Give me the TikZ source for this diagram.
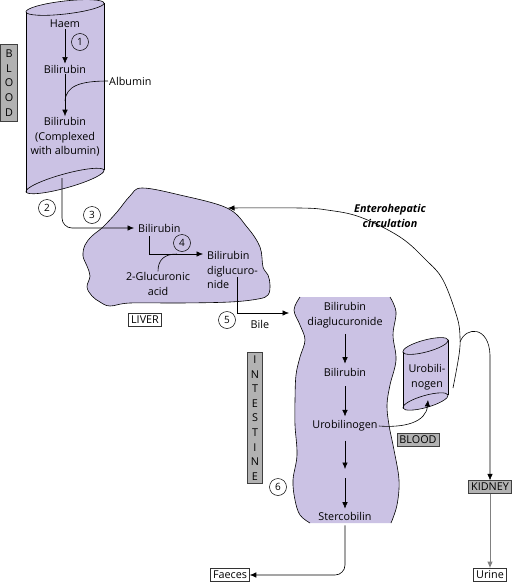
\documentclass[tikz,border=0pt]{standalone}
\usepackage{fontspec}
\setmainfont{Open Sans}
\usetikzlibrary{arrows.meta}
\definecolor{lav}{RGB}{203,194,228}
\definecolor{lblgray}{RGB}{178,178,178}
\newcommand\fs{\fontsize{10.8}{14.6}\selectfont}
\begin{document}
\begin{tikzpicture}[x=1pt,y=-1pt,
  every node/.style={font=\fs, inner sep=1pt},
  ln/.style={line width=0.6pt},
  arr/.style={ln, -{Latex[length=6.5pt,width=5.5pt]}},
  num/.style={draw, circle, minimum size=17pt, inner sep=0pt, line width=0.5pt, font=\fontsize{10}{11}\selectfont},
  wbox/.style={draw=black!80, fill=white, inner sep=2.5pt, line width=0.6pt},
  gbox/.style={draw=black!75, fill=lblgray, inner sep=2.5pt, line width=0.6pt},
  orgline/.style={ln, fill=lav}]
\useasboundingbox (0,0) rectangle (516,584);

% ---- blood cylinder
\fill[lav] (26,12) -- (26,192) -- (104,170) -- (104,3) -- cycle;
\draw[orgline] (65,181) ellipse [x radius=40.5, y radius=7, rotate=15.5];
\draw[ln] (26,12) -- (26,192) (104,3) -- (104,170);
\draw[orgline] (65,7.5) ellipse [x radius=39.3, y radius=6.5, rotate=6.5];

\node (haem) at (65,24) {Haem};
\node (bil1) at (65,69) {Bilirubin};
\node[align=center] (bil2) at (65,137) {Bilirubin\\(Complexed\\with albumin)};
\node[anchor=west] (alb) at (108,81) {Albumin};
\node[num] (n1) at (80,42) {1};
\draw[arr] (haem) -- (bil1);
\draw[arr] (bil1) -- (bil2);
\draw[ln] (alb.west) .. controls (80,81) and (66,86) .. (65,101);

\node[gbox, align=center, minimum width=17pt, minimum height=77pt, inner sep=1.5pt] (bloodv) at (9,83) {B\\L\\O\\O\\D};

% ---- liver
\draw[orgline] plot[smooth cycle, tension=0.6] coordinates {
  (142,188) (180,195) (227,208) (247,227) (260,247) (263,267) (268,275) (270,285)
  (268,295) (258,299) (230,302) (180,303) (130,303) (110,306) (100,302) (92,296)
  (87,287) (90,276) (87,266) (83,256) (85,245) (92,236) (103,227) (117,212) (130,196)};

\node[anchor=west] (bil3) at (137,228) {Bilirubin};
\node[anchor=west, align=left] (dig) at (206,270) {Bilirubin\\diglucuro-\\nide};
\node[align=center] (gluc) at (158,284) {2-Glucuronic\\acid};
\node[num] (n4) at (182,243) {4};
\coordinate (a4) at (149,236);
\coordinate (a4e) at (203,254);
\draw[arr] (a4) |- (a4e);
\draw[ln] (gluc.north) .. controls (158,260) and (164,254) .. (177,254);

\coordinate (b0) at (62,178);
\draw[arr, rounded corners=10pt, shorten >=3pt] (b0) |- (bil3.west);
\node[num] (n2) at (47,208) {2};
\node[num] (n3) at (92,215) {3};

\node[wbox] (liver) at (145,320) {LIVER};

\coordinate (b5) at (237,277);
\coordinate (b5e) at (289,313);
\draw[arr] (b5) |- (b5e);
\node (bile) at (260,324) {Bile};
\node[num] (n5) at (227,320) {5};

% ---- intestine
\fill[lav] plot[smooth, tension=0.6] coordinates {(390,297) (396,312) (393,335) (396,360) (390,385) (387,405) (389,425) (394,450) (399,480) (397,505) (391,523)}
  -- plot[smooth, tension=0.6] coordinates {(310,523) (300,515) (295,500) (293,480) (297,455) (295,425) (295,400) (296,375) (300,357) (305,340) (300,325) (294,310) (300,297)} -- cycle;
\draw[ln] plot[smooth, tension=0.6] coordinates {(390,297) (396,312) (393,335) (396,360) (390,385) (387,405) (389,425) (394,450) (399,480) (397,505) (391,523)};
\draw[ln] plot[smooth, tension=0.6] coordinates {(310,523) (300,515) (295,500) (293,480) (297,455) (295,425) (295,400) (296,375) (300,357) (305,340) (300,325) (294,310) (300,297)};

\node[align=center] (dia) at (345,315) {Bilirubin\\diaglucuronide};
\node (bil4) at (345,372) {Bilirubin};
\node (urob) at (345,426) {Urobilinogen};
\node (sterc) at (345,516) {Stercobilin};
\coordinate (m) at (345,473);
\draw[arr, shorten <=5pt, shorten >=3pt] (dia) -- (bil4);
\draw[arr, shorten <=9pt, shorten >=3pt] (bil4) -- (urob);
\draw[arr, shorten <=8pt, shorten >=4pt] (urob) -- (m);
\draw[arr, shorten <=5pt, shorten >=2pt] (m) -- (sterc);

\node[gbox, align=center, minimum width=15pt, minimum height=131pt, inner sep=1pt] (intv) at (255,418) {I\\N\\T\\E\\S\\T\\I\\N\\E};
\node[num] (n6) at (278,487) {6};

\node[wbox] (faeces) at (230,575) {Faeces};
\draw[arr, rounded corners=10pt, shorten <=4pt] (sterc.south) |- (faeces.east);

% ---- urobilinogen cylinder
\fill[lav] (403,352) -- (403,408) -- (448,395) -- (448,340) -- cycle;
\draw[orgline] (425.5,401.5) ellipse [x radius=23.5, y radius=6, rotate=16];
\draw[ln] (403,352) -- (403,408) (448,340) -- (448,395);
\draw[orgline] (425.5,346) ellipse [x radius=23.5, y radius=6, rotate=15];
\node[align=center] (uro) at (427,377) {Urobili-\\nogen};
\node[gbox] (bloodh) at (418,440) {BLOOD};
\coordinate (ucb) at (428,400);
\draw[arr] (urob.east) .. controls (405,428) and (426,422) .. (ucb);

% ---- enterohepatic circulation
\draw[arr] plot[smooth, tension=0.6] coordinates {(453,388) (459,355) (460,337) (457,317) (443,280) (426,260) (400,237) (360,217) (327,210) (300,208) (228,208)};
\node[align=center, font={\fs\bfseries\itshape}] (ehc) at (390,216) {Enterohepatic\\circulation};

% ---- kidney
\node[gbox] (kidney) at (490,487) {KIDNEY};
\node[wbox] (urine) at (490,575) {Urine};
\coordinate (kb) at (460,342);
\draw[arr] (kb) .. controls (466,326) and (489,326) .. (490,355) -- (kidney.north);
\draw[ln, line width=0.9pt, draw=black!50, -{Latex[length=6.5pt,width=5.5pt]}] (kidney.south) -- (urine.north);
\end{tikzpicture}
\end{document}
